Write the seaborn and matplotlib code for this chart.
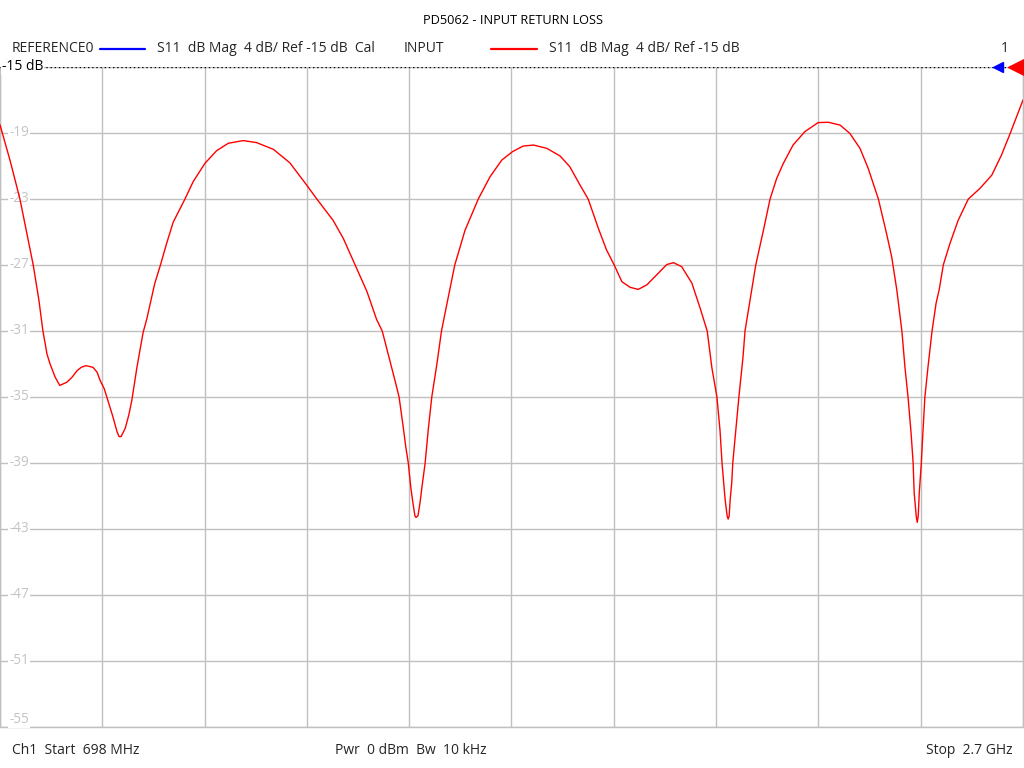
import matplotlib
matplotlib.use("Agg")
import matplotlib.pyplot as plt
import matplotlib.transforms as mtransforms
import numpy as np
import pandas as pd
import seaborn as sns

# ---- data ----
freq_mhz = [698, 708, 718, 737, 763, 774, 782, 790, 796, 806,
            815, 829, 839, 849, 857, 866, 880, 888, 894, 902,
            907, 919, 927, 931, 935, 943, 950, 956, 966, 978,
            985, 1001, 1012, 1024, 1037, 1060, 1076, 1099, 1122, 1145,
            1174, 1200, 1233, 1265, 1298, 1318, 1350, 1370, 1393, 1416,
            1435, 1446, 1461, 1471, 1479, 1487, 1492, 1497, 1502, 1506,
            1510, 1512, 1516, 1520, 1524, 1530, 1536, 1543, 1553, 1562,
            1571, 1588, 1608, 1634, 1657, 1680, 1701, 1722, 1742, 1768,
            1794, 1813, 1833, 1849, 1869, 1885, 1900, 1915, 1931, 1947,
            1964, 1983, 2003, 2016, 2032, 2052, 2068, 2082, 2091, 2101,
            2107, 2111, 2115, 2117, 2121, 2123, 2125, 2127, 2130, 2132,
            2138, 2144, 2152, 2156, 2169, 2177, 2192, 2205, 2218, 2231,
            2250, 2273, 2299, 2319, 2342, 2361, 2381, 2397, 2417, 2433,
            2443, 2453, 2463, 2469, 2475, 2481, 2485, 2487, 2491, 2493,
            2495, 2497, 2501, 2504, 2508, 2514, 2522, 2530, 2536, 2544,
            2557, 2573, 2593, 2616, 2639, 2658, 2675, 2700]
s11_db = [-18.5, -19.6, -20.7, -23.0, -27.0, -29.1, -31.0, -32.4, -33.0, -33.8,
          -34.3, -34.1, -33.8, -33.4, -33.2, -33.1, -33.2, -33.5, -34.0, -34.5,
          -35.0, -36.2, -37.1, -37.4, -37.4, -36.9, -36.1, -35.2, -33.2, -31.1,
          -30.3, -28.1, -27.0, -25.7, -24.4, -23.0, -21.95, -20.84, -20.07, -19.62,
          -19.46, -19.58, -19.99, -20.8, -22.15, -23.0, -24.3, -25.4, -27.0, -28.6,
          -30.3, -31.0, -32.8, -34.0, -35.0, -36.8, -38.0, -39.0, -40.5, -41.4,
          -42.2, -42.3, -42.2, -41.4, -40.4, -39.0, -37.0, -35.0, -33.0, -31.0,
          -29.6, -27.0, -24.9, -23.0, -21.65, -20.64, -20.13, -19.79, -19.73, -19.93,
          -20.39, -21.04, -22.15, -23.0, -24.78, -26.09, -27.0, -28.01, -28.35, -28.48,
          -28.2, -27.6, -26.97, -26.86, -27.1, -28.1, -29.6, -31.0, -33.2, -35.0,
          -37.0, -39.0, -40.5, -41.2, -42.2, -42.4, -42.2, -41.2, -40.2, -39.0,
          -37.0, -35.0, -32.6, -31.0, -28.5, -27.0, -24.9, -23.0, -21.75, -20.84,
          -19.73, -18.92, -18.37, -18.35, -18.52, -19.02, -19.93, -21.14, -23.0, -25.1,
          -26.5, -28.5, -31.0, -33.2, -35.0, -37.2, -39.0, -40.8, -42.2, -42.6,
          -42.2, -40.8, -39.0, -37.2, -35.0, -33.2, -31.0, -29.3, -28.5, -27.0,
          -25.7, -24.3, -23.0, -22.35, -21.55, -20.33, -19.02, -17.0]

start_mhz = 698
stop_mhz = 2700
ref_db = -15
n_div_x = 10
y_ticks = [-15, -19, -23, -27, -31, -35, -39, -43, -47, -51, -55]

title = "PD5062 - INPUT RETURN LOSS"
legend_ref_name = "REFERENCE0"
legend_ref_desc = "S11  dB Mag  4 dB/ Ref -15 dB  Cal"
legend_meas_name = "INPUT"
legend_meas_desc = "S11  dB Mag  4 dB/ Ref -15 dB"
footer_left = "Ch1  Start  698 MHz"
footer_mid = "Pwr  0 dBm  Bw  10 kHz"
footer_right = "Stop  2.7 GHz"

# ---- drawing ----
sns.set_style("white")
plt.rcParams['font.family'] = ['Open Sans', 'DejaVu Sans']

W, H = 1024, 768
fig = plt.figure(figsize=(W / 100, H / 100), dpi=100)
ax = fig.add_axes([0 / W, (H - 727) / H, 1023 / W, (727 - 67) / H])

df = pd.DataFrame({"freq": freq_mhz, "db": s11_db})
sns.lineplot(data=df, x="freq", y="db", color="#ff0000", linewidth=1.0, ax=ax,
             zorder=5, sort=False)

ax.set_xlim(start_mhz, stop_mhz)
ax.set_ylim(min(y_ticks), max(y_ticks))
ax.set_xticks(np.linspace(start_mhz, stop_mhz, n_div_x + 1))
ax.set_yticks(y_ticks)
ax.tick_params(left=False, bottom=False, labelleft=False, labelbottom=False)
ax.grid(True, color="#c0c0c0", linewidth=1.0)
ax.set_xlabel("")
ax.set_ylabel("")
for side in ["left", "bottom", "right"]:
    ax.spines[side].set_color("#c0c0c0")
    ax.spines[side].set_linewidth(1.0)
ax.spines["top"].set_visible(False)

# reference line (dotted)
ax.axhline(ref_db, color="black", linestyle=(0, (1, 2)), linewidth=1.0, zorder=6)

# y labels inside plot
tr = mtransforms.blended_transform_factory(ax.transAxes, ax.transData)
for v in y_ticks[1:]:
    va = "bottom" if v == min(y_ticks) else "center"
    ax.text(0.009, v, f"{v}", transform=tr, ha="left", va=va, fontsize=9.8,
            color="#c4c4c4", zorder=4,
            bbox=dict(boxstyle="square,pad=0.1", facecolor="white", edgecolor="none"))
ax.text(0.002, ref_db, f"{ref_db} dB", transform=tr, ha="left", va="center", fontsize=10,
        color="black", zorder=7,
        bbox=dict(boxstyle="square,pad=0.05", facecolor="white", edgecolor="none"))

# reference markers on right
ax.plot([0.9755], [ref_db], transform=tr, marker="<", markersize=7, color="#0000ff",
        clip_on=False, zorder=8, linestyle="none")
ax.plot([0.993], [ref_db], transform=tr, marker="<", markersize=11, color="#ff0000",
        clip_on=False, zorder=8, linestyle="none")

# title and header
fs = 10
fig.text(513 / W, 1 - 20 / H, title, ha="center", va="center", fontsize=9.2, color="black")
yl = 1 - 49 / H
fig.text(12 / W, yl, legend_ref_name, ha="left", va="center", fontsize=fs)
fig.add_artist(plt.Line2D([100 / W, 145 / W], [yl, yl], color="#0000ff", linewidth=1.6))
fig.text(157 / W, yl, legend_ref_desc, ha="left", va="center", fontsize=fs)
fig.text(404 / W, yl, legend_meas_name, ha="left", va="center", fontsize=fs)
fig.add_artist(plt.Line2D([491 / W, 537 / W], [yl, yl], color="#ff0000", linewidth=1.6))
fig.text(549 / W, yl, legend_meas_desc, ha="left", va="center", fontsize=fs)
fig.text(1005 / W, yl, "1", ha="center", va="center", fontsize=fs)

# footer
yf = 1 - 751 / H
fig.text(12 / W, yf, footer_left, ha="left", va="center", fontsize=fs)
fig.text(335 / W, yf, footer_mid, ha="left", va="center", fontsize=fs)
fig.text(1013 / W, yf, footer_right, ha="right", va="center", fontsize=fs)

fig.savefig("out.png", dpi=100, facecolor="white")
